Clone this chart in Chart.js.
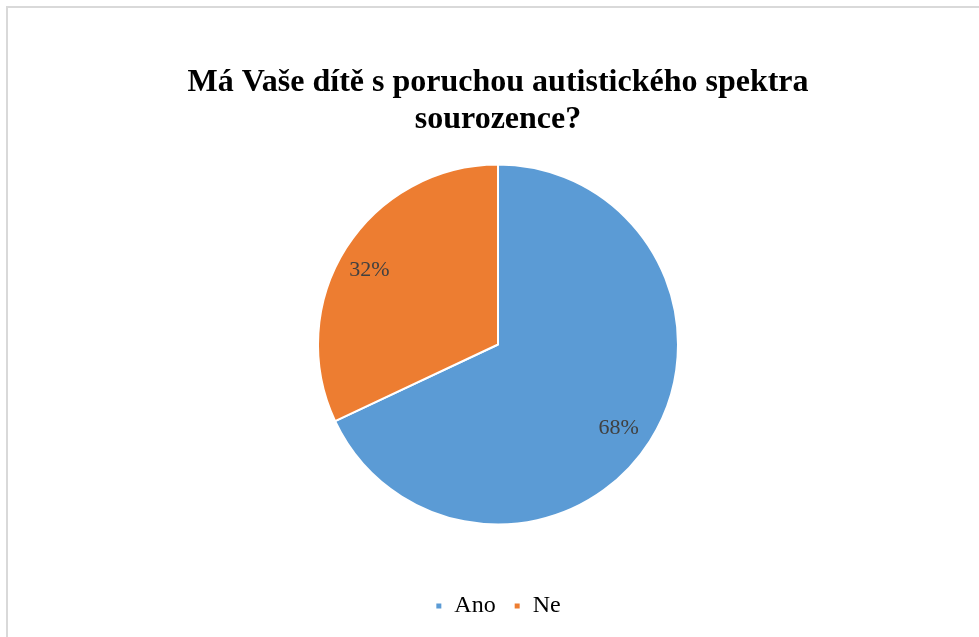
<!DOCTYPE html>
<html>
<head>
<meta charset="utf-8">
<script src="https://cdn.jsdelivr.net/npm/chart.js@4.4.1/dist/chart.umd.min.js"></script>
<style>
  html, body { margin: 0; padding: 0; background: #ffffff; overflow: hidden; }
  #frame {
    position: absolute; left: 6px; top: 6px; width: 990px; height: 650px;
    border: 2px solid #d9d9d9; box-sizing: border-box;
  }
  #chart { position: absolute; left: 0; top: 0; }
</style>
</head>
<body>
<div id="frame"></div>
<canvas id="chart" width="979" height="637"></canvas>
<script>
// Answer categories and their shares (percent)
const categories = ['Ano', 'Ne'];
const shares = [68, 32];
const sliceColors = ['#5B9BD5', '#ED7D31'];
const titleLines = ['Má Vaše dítě s poruchou autistického spektra', 'sourozence?'];

// Percentage labels placed inside each slice, along its middle angle
const sliceLabels = {
  id: 'sliceLabels',
  afterDatasetsDraw(chart) {
    const ctx = chart.ctx;
    const meta = chart.getDatasetMeta(0);
    const values = chart.data.datasets[0].data;
    ctx.save();
    ctx.font = '22px "Liberation Serif", "Times New Roman", serif';
    ctx.fillStyle = '#404040';
    ctx.textAlign = 'center';
    ctx.textBaseline = 'middle';
    meta.data.forEach((arc, i) => {
      const p = arc.getProps(['x', 'y', 'startAngle', 'endAngle', 'outerRadius'], true);
      const mid = (p.startAngle + p.endAngle) / 2;
      const r = p.outerRadius * 0.82;
      // label sits a little left of and below the exact radial point
      ctx.fillText(values[i] + '%', p.x + Math.cos(mid) * r - 4, p.y + Math.sin(mid) * r + 5);
    });
    ctx.restore();
  }
};

new Chart(document.getElementById('chart'), {
  type: 'pie',
  data: {
    labels: categories,
    datasets: [{
      data: shares,
      backgroundColor: sliceColors,
      borderColor: '#ffffff',
      borderWidth: 2,
      radius: 180
    }]
  },
  options: {
    responsive: false,
    animation: false,
    layout: { padding: { left: 17, right: 0, top: 0, bottom: 9 } },
    plugins: {
      title: {
        display: true,
        text: titleLines,
        color: '#000000',
        font: { family: '"Liberation Serif", "Times New Roman", serif', size: 32, weight: 'bold', lineHeight: '37px' },
        padding: { top: 64.5, bottom: -25.5 }
      },
      legend: {
        position: 'bottom',
        labels: {
          color: '#000000',
          font: { family: '"Liberation Serif", "Times New Roman", serif', size: 24 },
          boxWidth: 7,
          boxHeight: 7,
          padding: 18
        }
      },
      tooltip: { enabled: false }
    }
  },
  plugins: [sliceLabels]
});
</script>
</body>
</html>
